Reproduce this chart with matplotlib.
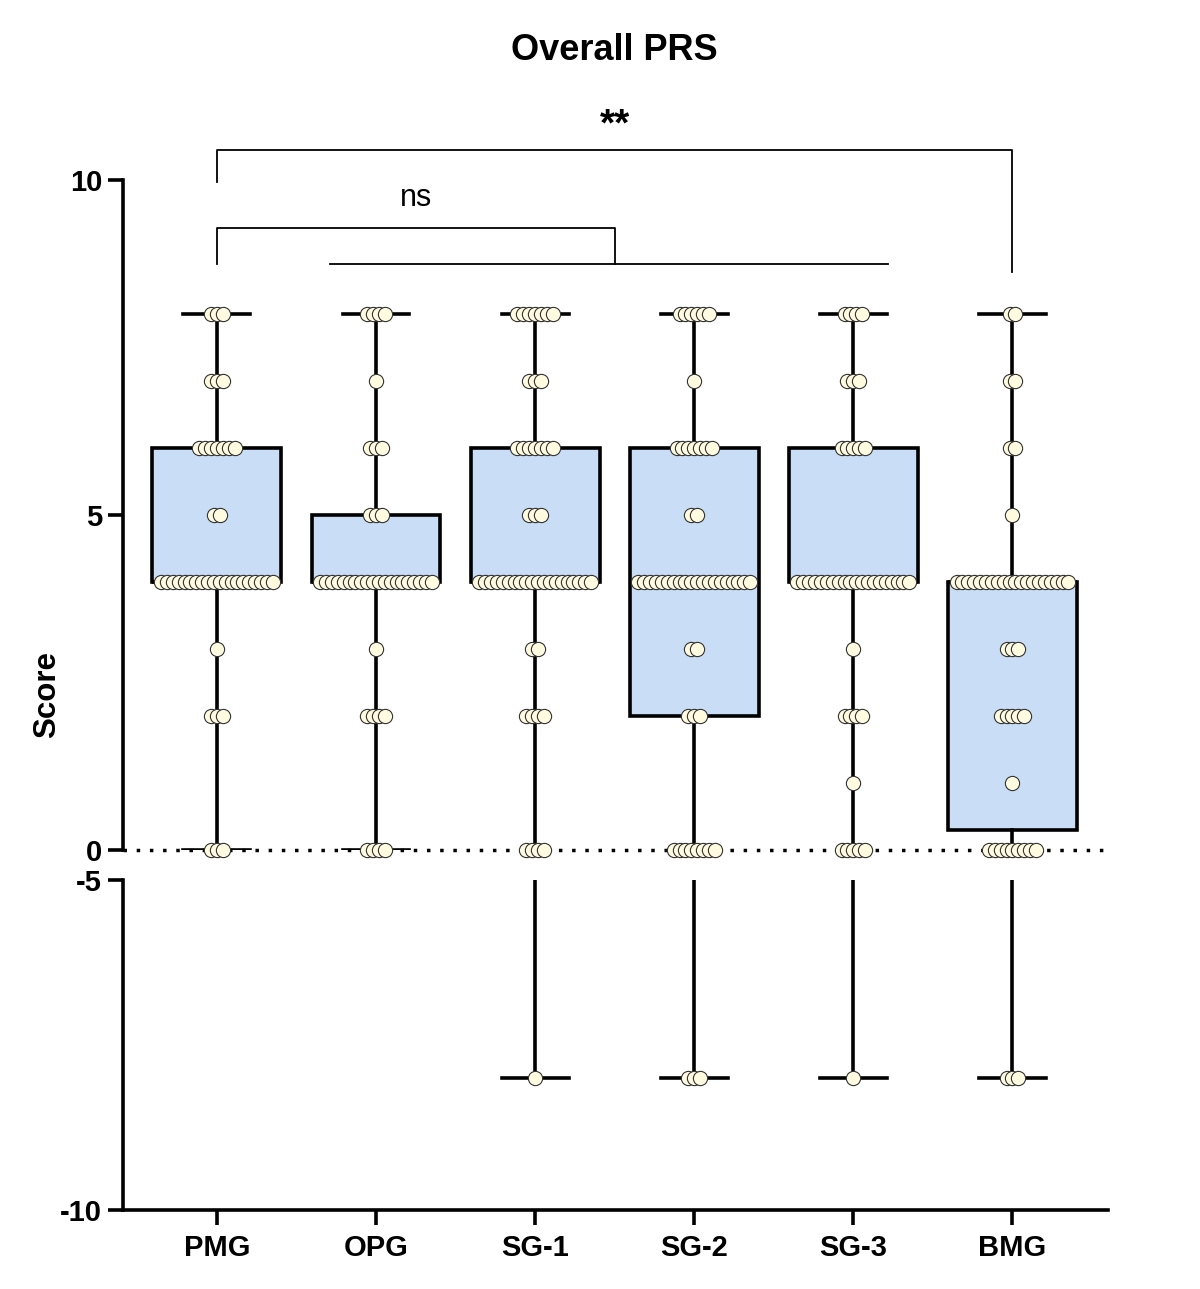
import numpy as np
import matplotlib
matplotlib.use('Agg')
import matplotlib.pyplot as plt

plt.rcParams['font.family'] = ['Liberation Sans', 'DejaVu Sans']

# Groups and box statistics
groups = ['PMG', 'OPG', 'SG-1', 'SG-2', 'SG-3', 'BMG']
q1 = [4, 4, 4, 2, 4, 0.3]
q3 = [6, 5, 6, 6, 6, 4]
med = [4, 4, 4, 4, 4, 4]
wlo = [0, 0, -8, -8, -8, -8]
whi = [8, 8, 8, 8, 8, 8]

# Individual scores: levels and number of subjects per level
levels = [8, 7, 6, 5, 4, 3, 2, 1, 0, -8]
cnt_pmg = [3, 3, 7, 2, 20, 1, 3, 0, 3, 0]
cnt_opg = [4, 1, 3, 3, 20, 1, 4, 0, 4, 0]
cnt_sg1 = [7, 3, 7, 3, 20, 2, 4, 0, 4, 1]
cnt_sg2 = [6, 1, 7, 2, 20, 2, 3, 0, 8, 3]
cnt_sg3 = [4, 3, 5, 0, 20, 1, 4, 1, 5, 1]
cnt_bmg = [2, 2, 2, 1, 20, 3, 5, 1, 9, 3]
counts = [cnt_pmg, cnt_opg, cnt_sg1, cnt_sg2, cnt_sg3, cnt_bmg]

box_color = '#c9def6'
dot_color = '#fffbe0'
lw = 2.6

fig = plt.figure(figsize=(12, 12.89), dpi=100)
ax_top = fig.add_axes([0.1025, 0.3406, 0.8208, 0.5198])
ax_bot = fig.add_axes([0.1025, 0.0613, 0.8208, 0.2560])

xpos = np.arange(len(groups))
stats = []
for i in range(len(groups)):
    stats.append(dict(med=med[i], q1=q1[i], q3=q3[i],
                      whislo=wlo[i], whishi=whi[i], fliers=[]))

for ax in [ax_top, ax_bot]:
    ax.bxp(stats, positions=xpos, widths=0.81, capwidths=0.42,
           patch_artist=True, showfliers=False,
           boxprops=dict(facecolor=box_color, edgecolor='black', linewidth=lw),
           whiskerprops=dict(color='black', linewidth=lw),
           capprops=dict(color='black', linewidth=lw),
           medianprops=dict(color='black', linewidth=lw))
    ax.set_xlim(-0.59, 5.6)
    ax.spines['top'].set_visible(False)
    ax.spines['right'].set_visible(False)
    ax.spines['left'].set_linewidth(lw)
    ax.spines['bottom'].set_linewidth(lw)
    ax.tick_params(axis='both', length=11, width=lw, labelsize=21, pad=4)

# Scatter the individual points side by side
step = 0.037
for i in range(len(groups)):
    for lev, n in zip(levels, counts[i]):
        if n == 0:
            continue
        xs = xpos[i] + (np.arange(n) - (n - 1) / 2) * step
        ys = np.full(n, lev)
        ax = ax_top if lev >= 0 else ax_bot
        ax.scatter(xs, ys, s=105, facecolor=dot_color, edgecolor='#333333',
                   linewidth=0.8, zorder=4, clip_on=False)

# Top segment
ax_top.set_ylim(0, 10)
ax_top.set_yticks([0, 5, 10])
ax_top.set_yticklabels(['0', '5', '10'], fontweight='bold')
ax_top.spines['bottom'].set_visible(False)
ax_top.set_xticks([])
ax_top.axhline(0, color='black', lw=2.5, ls=(0, (1, 2.8)), zorder=1, clip_on=False)

# Bottom segment
ax_bot.set_ylim(-10, -5)
ax_bot.set_yticks([-10, -5])
ax_bot.set_yticklabels(['-10', '-5'], fontweight='bold')
ax_bot.set_xticks(xpos)
ax_bot.set_xticklabels(groups, fontweight='bold')
ax_bot.tick_params(axis='x', pad=6)

# Significance brackets
blw = 1.3
ax_top.plot([0, 0, 5, 5], [9.97, 10.45, 10.45, 8.63], color='black',
            lw=blw, clip_on=False)
ax_top.text(2.5, 10.55, '**', ha='center', va='bottom', fontsize=28,
            fontweight='bold')
ax_top.plot([0, 0, 2.5, 2.5], [8.75, 9.28, 9.28, 8.75], color='black',
            lw=blw, clip_on=False)
ax_top.plot([0.71, 4.22], [8.75, 8.75], color='black', lw=blw, clip_on=False)
ax_top.text(1.25, 9.5, 'ns', ha='center', va='bottom', fontsize=22)

# Labels
fig.text(0.512, 1 - 50 / 1289, 'Overall PRS', ha='center', va='center',
         fontsize=26, fontweight='bold')
fig.text(47 / 1200, 1 - 695 / 1289, 'Score', ha='center', va='center',
         rotation=90, fontsize=22.5, fontweight='bold')

plt.savefig('out.png', dpi=100)
plt.close()
